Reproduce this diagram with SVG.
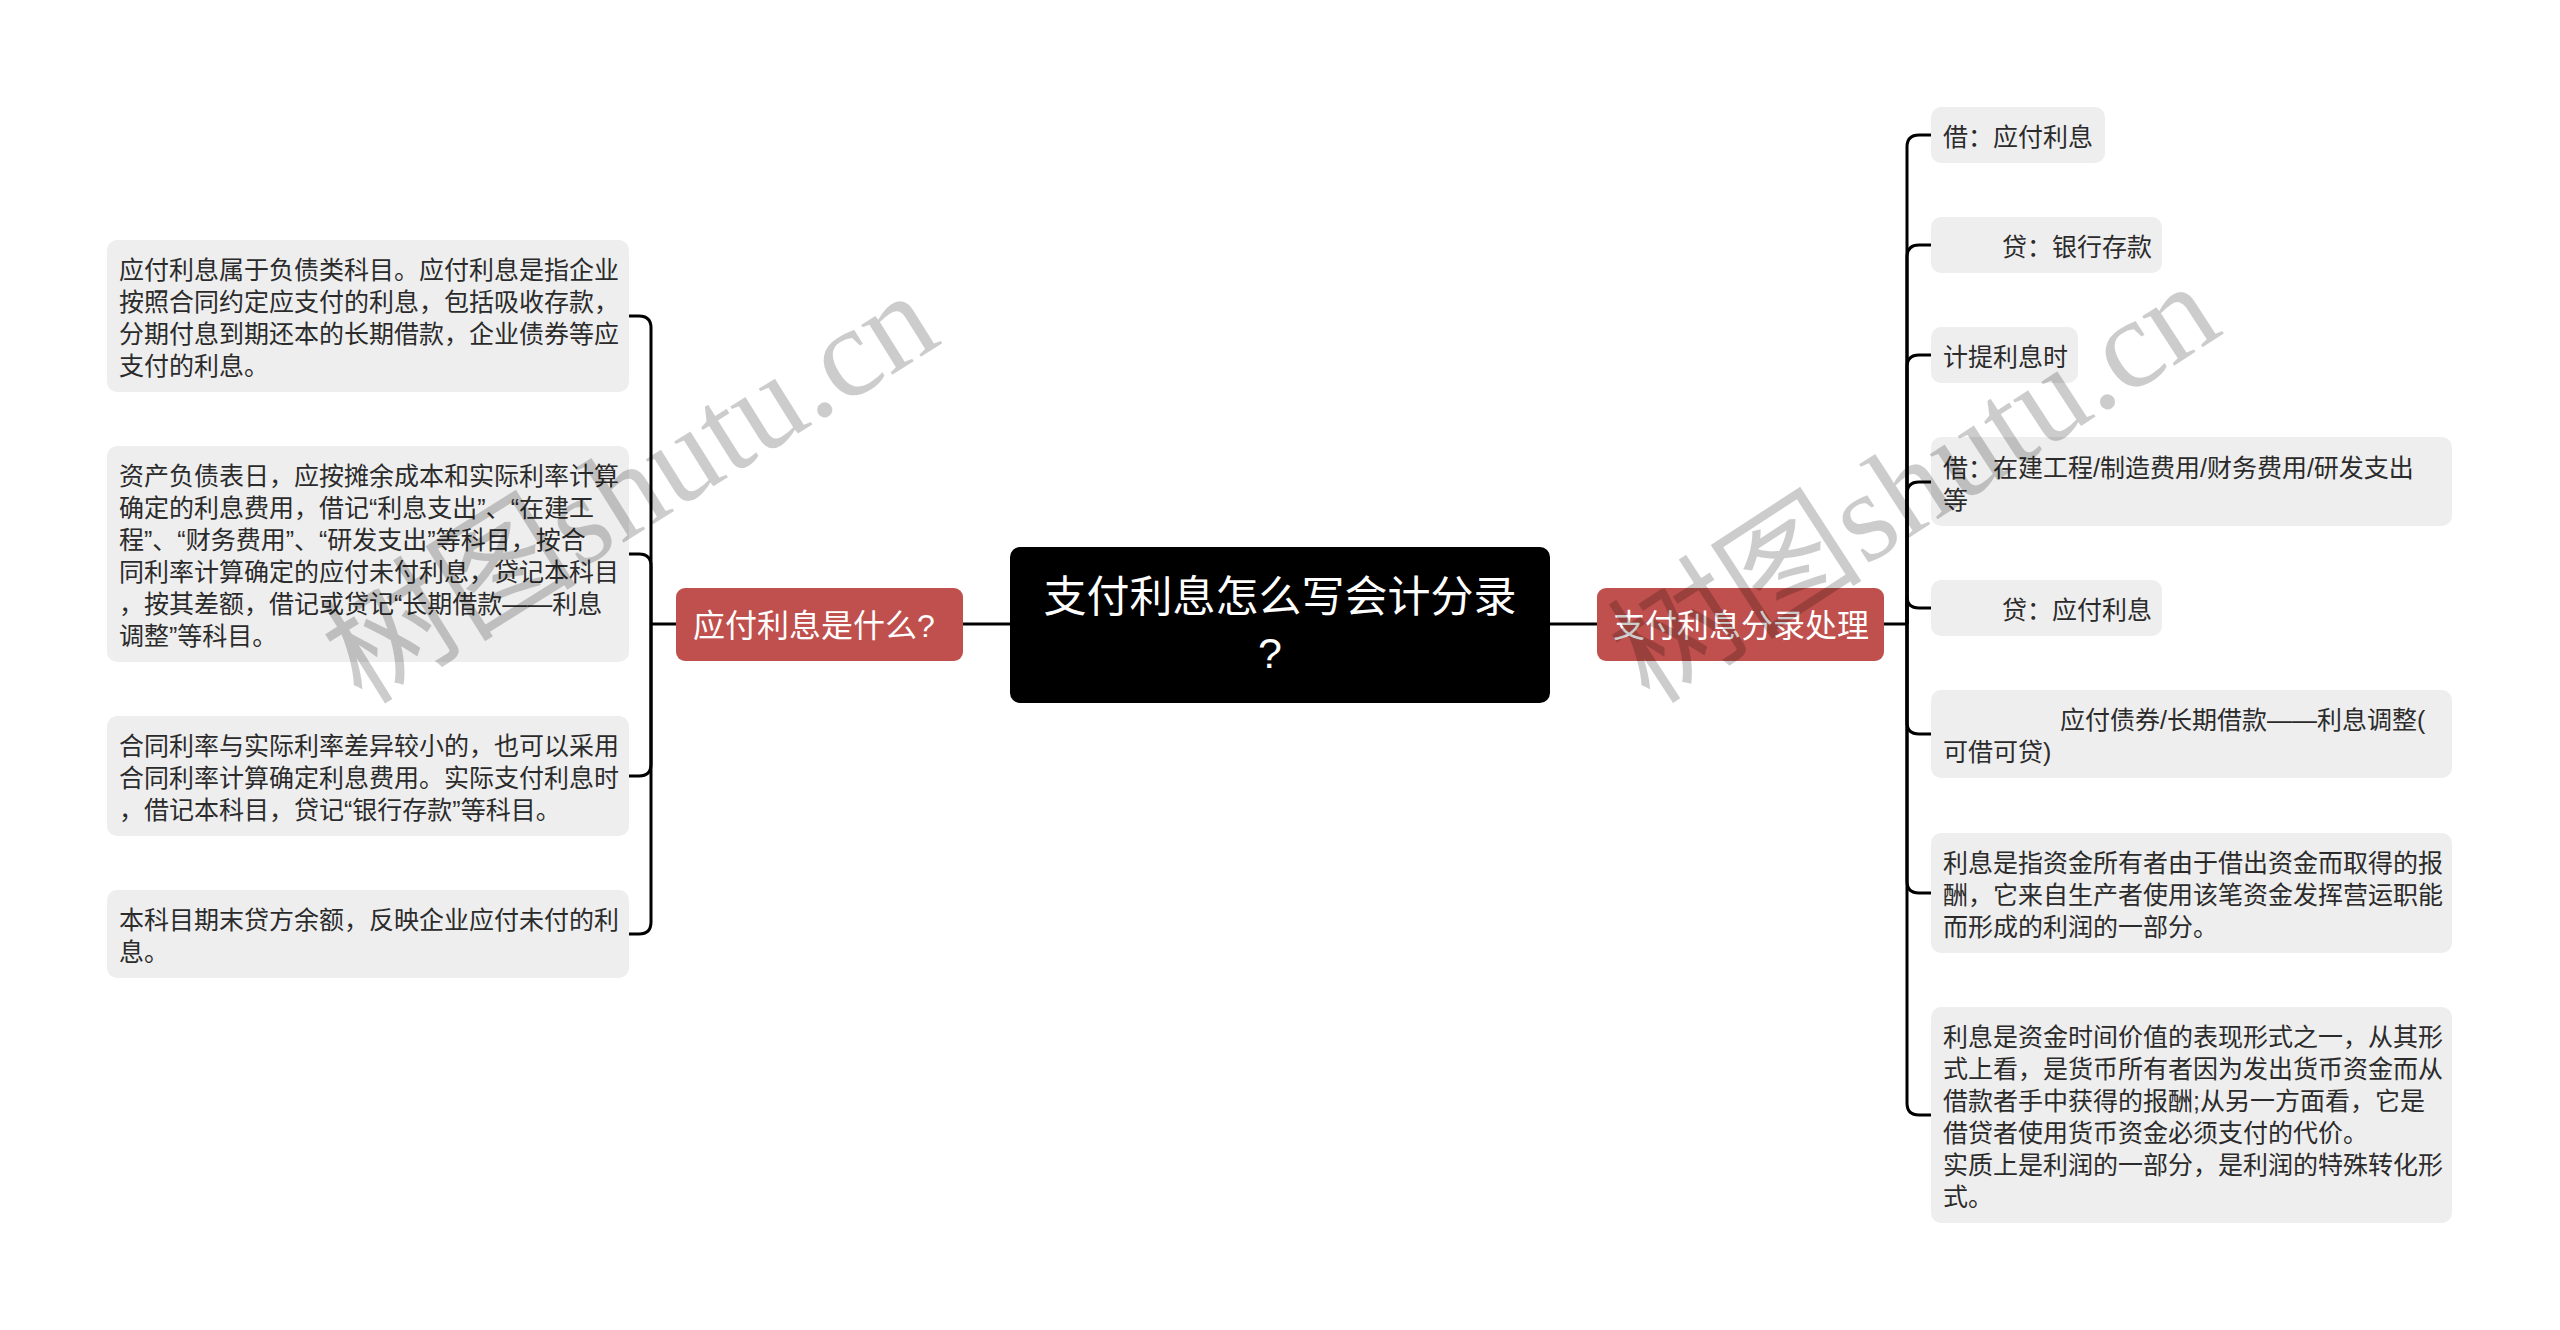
<svg xmlns="http://www.w3.org/2000/svg" width="2560" height="1330" viewBox="0 0 2560 1330">
<style>
.bg{fill:#ffffff}
.leaf rect{fill:#eeeeee}
.leaf text{font-family:"Liberation Sans","Noto Sans CJK SC",sans-serif;font-size:25px;fill:#2b2b2b;dominant-baseline:central}
.mid rect{fill:#c0504d}
.mid text{font-family:"Liberation Sans","Noto Sans CJK SC",sans-serif;font-size:32px;fill:#ffffff;dominant-baseline:central}
.root rect{fill:#000000}
.root text{font-family:"Liberation Sans","Noto Sans CJK SC",sans-serif;font-size:43px;fill:#ffffff;dominant-baseline:central;text-anchor:middle}
.conn path{fill:none;stroke:#000000;stroke-width:3}
.wm{font-family:"Liberation Serif","Noto Sans CJK SC",serif;font-size:128px;fill:#000000;fill-opacity:0.2}
</style>
<rect class="bg" x="0" y="0" width="2560" height="1330"/>
<g id="connectors" class="conn">
<path d="M1010 624 H963"/>
<path d="M676 624 H651"/>
<path d="M651 624 V328 Q651 316 639 316 H629"/>
<path d="M651 624 V566 Q651 554 639 554 H629"/>
<path d="M651 624 V764 Q651 776 639 776 H629"/>
<path d="M651 624 V922 Q651 934 639 934 H629"/>
<path d="M1550 624 H1597"/>
<path d="M1884 624 H1907"/>
<path d="M1907 624 V147 Q1907 135 1919 135 H1931"/>
<path d="M1907 624 V257 Q1907 245 1919 245 H1931"/>
<path d="M1907 624 V367 Q1907 355 1919 355 H1931"/>
<path d="M1907 624 V494 Q1907 482 1919 482 H1931"/>
<path d="M1907 624 V596 Q1907 608 1919 608 H1931"/>
<path d="M1907 624 V722 Q1907 734 1919 734 H1931"/>
<path d="M1907 624 V881 Q1907 893 1919 893 H1931"/>
<path d="M1907 624 V1103 Q1907 1115 1919 1115 H1931"/>
</g>
<g id="root" class="root">
<rect x="1010" y="547" width="540" height="156" rx="10"/>
<text x="1280" y="597">支付利息怎么写会计分录</text>
<text x="1270" y="653">?</text>
</g>
<g id="left-main" class="mid">
<rect x="676" y="588" width="287" height="73" rx="9"/>
<text x="693" y="626">应付利息是什么?</text>
</g>
<g id="right-main" class="mid">
<rect x="1597" y="588" width="287" height="73" rx="9"/>
<text x="1613" y="626">支付利息分录处理</text>
</g>
<g id="l1" class="leaf">
<rect x="107" y="240" width="522" height="152" rx="10"/>
<text x="119" y="270">应付利息属于负债类科目。应付利息是指企业</text>
<text x="119" y="302">按照合同约定应支付的利息，包括吸收存款，</text>
<text x="119" y="334">分期付息到期还本的长期借款，企业债券等应</text>
<text x="119" y="366">支付的利息。</text>
</g>
<g id="l2" class="leaf">
<rect x="107" y="446" width="522" height="216" rx="10"/>
<text x="119" y="476">资产负债表日，应按摊余成本和实际利率计算</text>
<text x="119" y="508">确定的利息费用，借记“利息支出”、“在建工</text>
<text x="119" y="540">程”、“财务费用”、“研发支出”等科目，按合</text>
<text x="119" y="572">同利率计算确定的应付未付利息，贷记本科目</text>
<text x="119" y="604">，按其差额，借记或贷记“长期借款——利息</text>
<text x="119" y="636">调整”等科目。</text>
</g>
<g id="l3" class="leaf">
<rect x="107" y="716" width="522" height="120" rx="10"/>
<text x="119" y="746">合同利率与实际利率差异较小的，也可以采用</text>
<text x="119" y="778">合同利率计算确定利息费用。实际支付利息时</text>
<text x="119" y="810">，借记本科目，贷记“银行存款”等科目。</text>
</g>
<g id="l4" class="leaf">
<rect x="107" y="890" width="522" height="88" rx="10"/>
<text x="119" y="920">本科目期末贷方余额，反映企业应付未付的利</text>
<text x="119" y="952">息。</text>
</g>
<g id="r1" class="leaf">
<rect x="1931" y="107" width="174" height="56" rx="10"/>
<text x="1943" y="137">借：应付利息</text>
</g>
<g id="r2" class="leaf">
<rect x="1931" y="217" width="231" height="56" rx="10"/>
<text x="2002" y="247">贷：银行存款</text>
</g>
<g id="r3" class="leaf">
<rect x="1931" y="327" width="147" height="56" rx="10"/>
<text x="1943" y="357">计提利息时</text>
</g>
<g id="r4" class="leaf">
<rect x="1931" y="437" width="521" height="89" rx="10"/>
<text x="1943" y="468">借：在建工程/制造费用/财务费用/研发支出</text>
<text x="1943" y="500">等</text>
</g>
<g id="r5" class="leaf">
<rect x="1931" y="580" width="231" height="56" rx="10"/>
<text x="2002" y="610">贷：应付利息</text>
</g>
<g id="r6" class="leaf">
<rect x="1931" y="690" width="521" height="88" rx="10"/>
<text x="2060" y="720">应付债券/长期借款——利息调整(</text>
<text x="1943" y="752">可借可贷)</text>
</g>
<g id="r7" class="leaf">
<rect x="1931" y="833" width="521" height="120" rx="10"/>
<text x="1943" y="863">利息是指资金所有者由于借出资金而取得的报</text>
<text x="1943" y="895">酬，它来自生产者使用该笔资金发挥营运职能</text>
<text x="1943" y="927">而形成的利润的一部分。</text>
</g>
<g id="r8" class="leaf">
<rect x="1931" y="1007" width="521" height="216" rx="10"/>
<text x="1943" y="1037">利息是资金时间价值的表现形式之一，从其形</text>
<text x="1943" y="1069">式上看，是货币所有者因为发出货币资金而从</text>
<text x="1943" y="1101">借款者手中获得的报酬;从另一方面看，它是</text>
<text x="1943" y="1133">借贷者使用货币资金必须支付的代价。</text>
<text x="1943" y="1165">实质上是利润的一部分，是利润的特殊转化形</text>
<text x="1943" y="1197">式。</text>
</g>
<g id="watermark">
<text class="wm" x="362" y="706" transform="rotate(-32 362 706)">树图shutu.cn</text>
<text class="wm" x="1650" y="706" transform="rotate(-33 1650 706)">树图shutu.cn</text>
</g>
</svg>
